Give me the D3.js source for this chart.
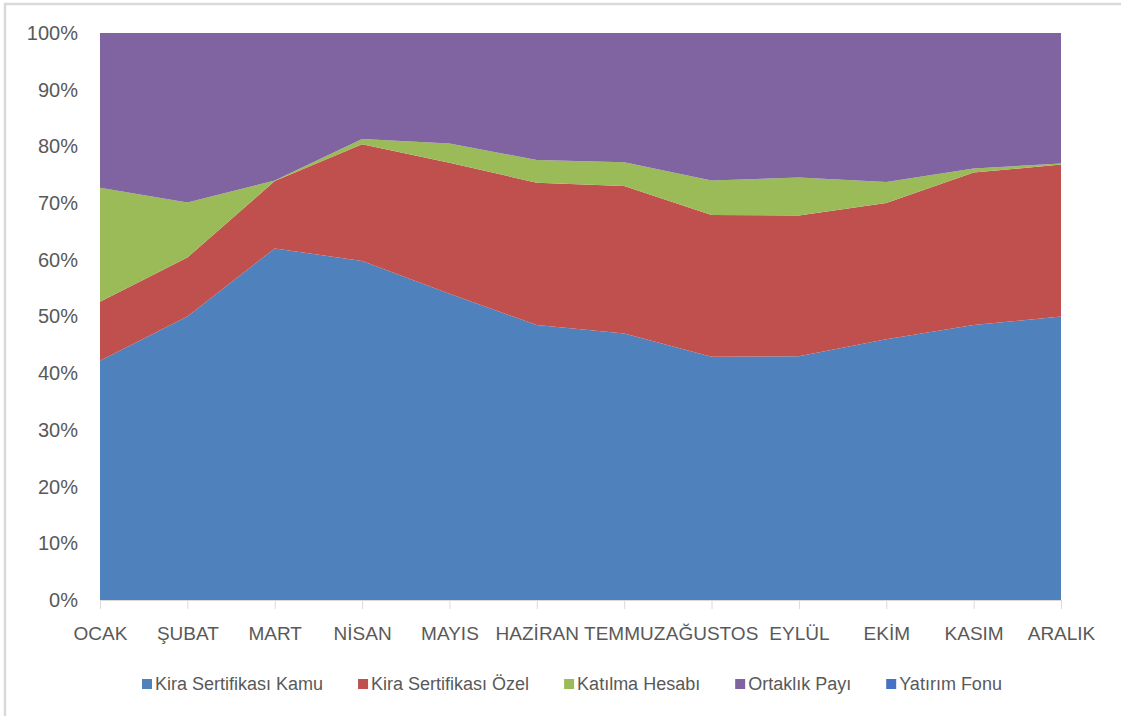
<!DOCTYPE html>
<html>
<head>
<meta charset="utf-8">
<script src="https://cdn.jsdelivr.net/npm/d3@7"></script>
<style>
  body { margin: 0; background: #fff; }
  svg { display: block; font-family: "Liberation Sans", Arial, sans-serif; }
</style>
</head>
<body>
<svg width="1121" height="716"></svg>
<script>
// Data (percent of portfolio)
var months = ["OCAK", "ŞUBAT", "MART", "NİSAN", "MAYIS", "HAZİRAN",
  "TEMMUZ", "AĞUSTOS", "EYLÜL", "EKİM", "KASIM", "ARALIK"];
var kamu     = [42.2, 50.0, 62.0, 59.8, 54.0, 48.5, 47.0, 42.9, 43.0, 46.0, 48.5, 50.0];
var ozel     = [10.4, 10.4, 11.9, 20.6, 23.1, 25.1, 26.0, 25.0, 24.8, 24.0, 26.9, 26.8];
var katilma  = [20.1,  9.7,  0.1,  0.9,  3.4,  4.0,  4.2,  6.1,  6.7,  3.7,  0.7,  0.2];
var ortaklik = [27.3, 29.9, 26.0, 18.7, 19.5, 22.4, 22.8, 26.0, 25.5, 26.3, 23.9, 23.0];
var yatirim  = [0, 0, 0, 0, 0, 0, 0, 0, 0, 0, 0, 0];
var y_ticks  = [0, 0.1, 0.2, 0.3, 0.4, 0.5, 0.6, 0.7, 0.8, 0.9, 1];

var series = [
  {key: "kamu", name: "Kira Sertifikası Kamu", color: "#4F81BD", values: kamu},
  {key: "ozel", name: "Kira Sertifikası Özel", color: "#C0504D", values: ozel},
  {key: "katilma", name: "Katılma Hesabı", color: "#9BBB59", values: katilma},
  {key: "ortaklik", name: "Ortaklık Payı", color: "#8064A2", values: ortaklik},
  {key: "yatirim", name: "Yatırım Fonu", color: "#4472C4", values: yatirim}
];

var table = months.map(function(m, i) {
  var row = {month: m};
  series.forEach(function(s) { row[s.key] = s.values[i]; });
  return row;
});

var svg = d3.select("svg");
var text_col = "#595959";
var grid_col = "#d9d9d9";

// outer chart frame (runs off the right/bottom of the picture)
svg.append("rect")
  .attr("x", 5).attr("y", 4)
  .attr("width", 1300).attr("height", 900)
  .attr("fill", "none")
  .attr("stroke", grid_col)
  .attr("stroke-width", 2.5);

var x = d3.scalePoint().domain(months).range([100, 1061]);
var y = d3.scaleLinear().domain([0, 1]).range([600, 33]);

var stack = d3.stack()
  .keys(series.map(s => s.key))
  .offset(d3.stackOffsetExpand);
var layers = stack(table);

var area = d3.area()
  .x(d => x(d.data.month))
  .y0(d => y(d[0]))
  .y1(d => y(d[1]));

svg.append("g").attr("id", "areas")
  .selectAll("path").data(layers).enter().append("path")
  .attr("d", area)
  .attr("fill", (d, i) => series[i].color);

// y axis
var yAxis = svg.append("g")
  .attr("transform", "translate(100,0)")
  .call(d3.axisLeft(y).tickValues(y_ticks).tickFormat(d3.format(".0%")).tickSize(0).tickPadding(22));
yAxis.select(".domain").remove();
yAxis.selectAll("text")
  .attr("font-size", "20px")
  .attr("font-family", "Liberation Sans, Arial, sans-serif")
  .attr("fill", text_col);

// x axis
var xAxis = svg.append("g")
  .attr("transform", "translate(0,600)")
  .call(d3.axisBottom(x).tickSize(9).tickPadding(18));
xAxis.select(".domain").attr("stroke", grid_col).attr("stroke-width", 1);
xAxis.selectAll("line").attr("stroke", grid_col);
xAxis.selectAll("text")
  .attr("font-size", "19px")
  .attr("font-family", "Liberation Sans, Arial, sans-serif")
  .attr("fill", text_col);

// legend
var legend = svg.append("g").attr("id", "legend");
var items = legend.selectAll("g").data(series).enter().append("g");
items.append("rect")
  .attr("width", 10).attr("height", 10)
  .attr("y", -11)
  .attr("fill", d => d.color);
items.append("text")
  .attr("x", 13)
  .attr("font-size", "18px")
  .attr("fill", text_col)
  .text(d => d.name);

var pos = 142;
items.each(function(d) {
  var w = this.getBBox().width;
  d3.select(this).attr("transform", "translate(" + pos + ",690)");
  pos += w + 35;
});
</script>
</body>
</html>
